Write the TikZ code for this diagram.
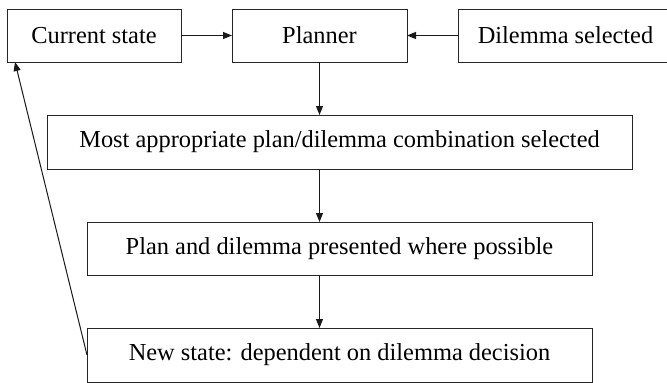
\documentclass[tikz,border=0pt]{standalone}
\usepackage{fontspec}
\setmainfont{Liberation Serif}
\usetikzlibrary{arrows.meta,calc}
\begin{document}
\begin{tikzpicture}[x=1pt,y=-1pt,
  box/.style={draw=black!85,line width=1pt,inner sep=0pt,outer sep=0pt,
    font=\fontsize{24.4}{28}\selectfont,anchor=center},
  conn/.style={line width=1pt,draw=black!90,-{Triangle[length=9pt,width=7pt]}}]
\useasboundingbox (0,0) rectangle (667,383);
\node[box,minimum width=174,minimum height=53] (cur) at (94,35.5) {Current state};
\node[box,minimum width=175,minimum height=53] (plan) at (319.5,35.5) {Planner};
\node[box,minimum width=215,minimum height=53] (dil) at (565.5,35.5) {Dilemma selected};
\node[box,minimum width=585,minimum height=54] (most) at (339.5,142) {Most appropriate plan/dilemma combination selected};
\node[box,minimum width=505,minimum height=53] (pres) at (339.5,248.5) {Plan and dilemma presented where possible};
\node[box,minimum width=505,minimum height=54] (new) at (339.5,355) {New state: dependent on dilemma decision};
\coordinate (fb) at ($(cur.south west)+(8,0)$);
\draw[conn] (cur.east) -- (plan.west);
\draw[conn] (dil.west) -- (plan.east);
\draw[conn] (plan.south) -- (plan.south |- most.north);
\draw[conn] (most.south -| plan.south) -- (pres.north -| plan.south);
\draw[conn] (pres.south -| plan.south) -- (new.north -| plan.south);
\draw[conn] (new.west) -- (fb);
\end{tikzpicture}
\end{document}
